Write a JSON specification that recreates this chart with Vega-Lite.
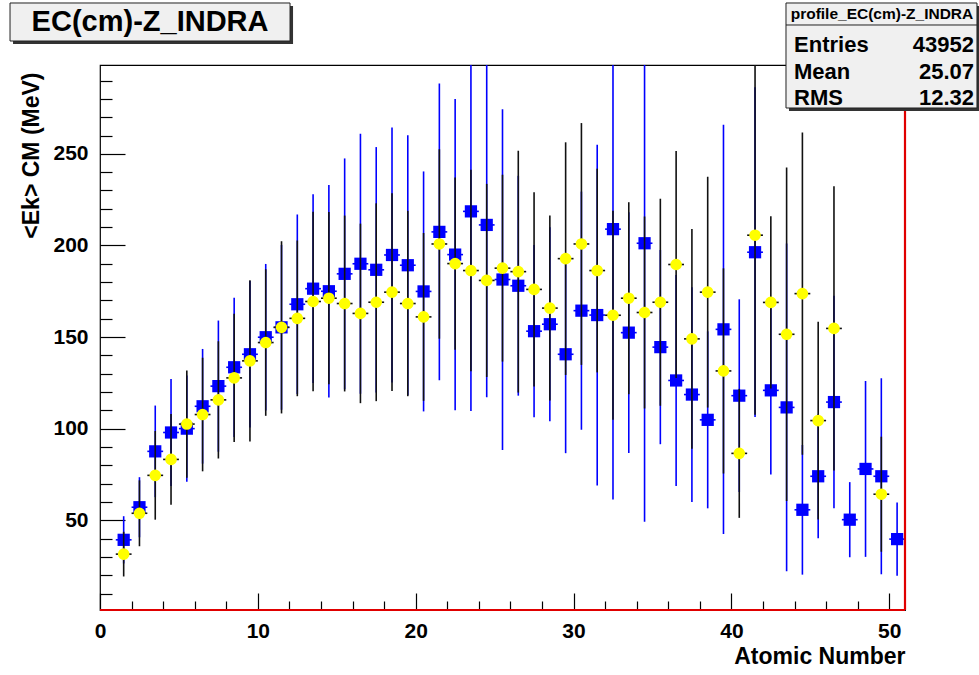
{
  "$schema": "https://vega.github.io/schema/vega-lite/v6.json",
  "width": 805,
  "height": 545,
  "autosize": {"type": "none"},
  "padding": {"left": 100, "top": 65, "right": 74, "bottom": 65},
  "background": "white",
  "config": {"view": {"stroke": "black", "strokeWidth": 1.2}, "font": "Liberation Sans"},
  "datasets": {
    "prof": [
      {"z":1.5,"zlo":1,"zhi":2,"s":"B","v":39.3,"lo":26.4,"hi":52.2},
      {"z":2.5,"zlo":2,"zhi":3,"s":"B","v":57.1,"lo":40.7,"hi":73.5},
      {"z":3.5,"zlo":3,"zhi":4,"s":"B","v":87.6,"lo":62.6,"hi":112.6},
      {"z":4.5,"zlo":4,"zhi":5,"s":"B","v":97.9,"lo":68.7,"hi":127.1},
      {"z":5.5,"zlo":5,"zhi":6,"s":"B","v":100,"lo":71,"hi":129},
      {"z":6.5,"zlo":6,"zhi":7,"s":"B","v":112.2,"lo":80.9,"hi":143.5},
      {"z":7.5,"zlo":7,"zhi":8,"s":"B","v":123.2,"lo":87.4,"hi":159},
      {"z":8.5,"zlo":8,"zhi":9,"s":"B","v":133.5,"lo":95.5,"hi":171.5},
      {"z":9.5,"zlo":9,"zhi":10,"s":"B","v":140.6,"lo":100.6,"hi":180.6},
      {"z":10.5,"zlo":10,"zhi":11,"s":"B","v":149.9,"lo":109.9,"hi":189.9},
      {"z":11.5,"zlo":11,"zhi":12,"s":"B","v":155.3,"lo":110.3,"hi":200.3},
      {"z":12.5,"zlo":12,"zhi":13,"s":"B","v":167.9,"lo":118.9,"hi":216.9},
      {"z":13.5,"zlo":13,"zhi":14,"s":"B","v":176.4,"lo":124.9,"hi":227.9},
      {"z":14.5,"zlo":14,"zhi":15,"s":"B","v":175,"lo":117,"hi":233},
      {"z":15.5,"zlo":15,"zhi":16,"s":"B","v":184.5,"lo":121.5,"hi":247.5},
      {"z":16.5,"zlo":16,"zhi":17,"s":"B","v":190,"lo":119,"hi":261},
      {"z":17.5,"zlo":17,"zhi":18,"s":"B","v":186.7,"lo":119.7,"hi":253.7},
      {"z":18.5,"zlo":18,"zhi":19,"s":"B","v":194.8,"lo":125.2,"hi":264.4},
      {"z":19.5,"zlo":19,"zhi":20,"s":"B","v":189.2,"lo":118.2,"hi":260.2},
      {"z":20.5,"zlo":20,"zhi":21,"s":"B","v":174.9,"lo":109.4,"hi":240.4},
      {"z":21.5,"zlo":21,"zhi":22,"s":"B","v":207.4,"lo":126.4,"hi":288.4},
      {"z":22.5,"zlo":22,"zhi":23,"s":"B","v":195,"lo":110,"hi":280},
      {"z":23.5,"zlo":23,"zhi":24,"s":"B","v":218.6,"lo":109.6,"hi":327.6},
      {"z":24.5,"zlo":24,"zhi":25,"s":"B","v":211.2,"lo":117.2,"hi":305.2},
      {"z":25.5,"zlo":25,"zhi":26,"s":"B","v":181.4,"lo":88.4,"hi":274.4},
      {"z":26.5,"zlo":26,"zhi":27,"s":"B","v":178,"lo":118,"hi":238},
      {"z":27.5,"zlo":27,"zhi":28,"s":"B","v":153.2,"lo":106.2,"hi":200.2},
      {"z":28.5,"zlo":28,"zhi":29,"s":"B","v":157,"lo":104,"hi":210},
      {"z":29.5,"zlo":29,"zhi":30,"s":"B","v":140.6,"lo":86.6,"hi":194.6},
      {"z":30.5,"zlo":30,"zhi":31,"s":"B","v":164.4,"lo":99.4,"hi":229.4},
      {"z":31.5,"zlo":31,"zhi":32,"s":"B","v":162,"lo":69,"hi":255},
      {"z":32.5,"zlo":32,"zhi":33,"s":"B","v":208.9,"lo":61.3,"hi":356.5},
      {"z":33.5,"zlo":33,"zhi":34,"s":"B","v":152.4,"lo":86.7,"hi":218.1},
      {"z":34.5,"zlo":34,"zhi":35,"s":"B","v":201.2,"lo":49.2,"hi":353.2},
      {"z":35.5,"zlo":35,"zhi":36,"s":"B","v":144.5,"lo":91.5,"hi":197.5},
      {"z":36.5,"zlo":36,"zhi":37,"s":"B","v":126.3,"lo":68.7,"hi":183.9},
      {"z":37.5,"zlo":37,"zhi":38,"s":"B","v":118.6,"lo":60,"hi":177.2},
      {"z":38.5,"zlo":38,"zhi":39,"s":"B","v":104.8,"lo":56.5,"hi":153.1},
      {"z":39.5,"zlo":39,"zhi":40,"s":"B","v":154.2,"lo":42.5,"hi":265.9},
      {"z":40.5,"zlo":40,"zhi":41,"s":"B","v":118,"lo":65.4,"hi":170.6},
      {"z":41.5,"zlo":41,"zhi":42,"s":"B","v":196.3,"lo":106.3,"hi":286.3},
      {"z":42.5,"zlo":42,"zhi":43,"s":"B","v":120.9,"lo":74.9,"hi":166.9},
      {"z":43.5,"zlo":43,"zhi":44,"s":"B","v":111.6,"lo":22.2,"hi":201},
      {"z":44.5,"zlo":44,"zhi":45,"s":"B","v":55.7,"lo":20.3,"hi":91.1},
      {"z":45.5,"zlo":45,"zhi":46,"s":"B","v":74,"lo":40.2,"hi":107.8},
      {"z":46.5,"zlo":46,"zhi":47,"s":"B","v":114.5,"lo":56.5,"hi":172.5},
      {"z":47.5,"zlo":47,"zhi":48,"s":"B","v":50.3,"lo":29.8,"hi":70.8},
      {"z":48.5,"zlo":48,"zhi":49,"s":"B","v":78,"lo":30,"hi":126},
      {"z":49.5,"zlo":49,"zhi":50,"s":"B","v":74,"lo":20.5,"hi":127.5},
      {"z":50.5,"zlo":50,"zhi":51,"s":"B","v":39.7,"lo":19.7,"hi":59.7},
      {"z":1.5,"zlo":1,"zhi":2,"s":"Y","v":31.5,"lo":19.3,"hi":43.7},
      {"z":2.5,"zlo":2,"zhi":3,"s":"Y","v":53.8,"lo":35.8,"hi":71.8},
      {"z":3.5,"zlo":3,"zhi":4,"s":"Y","v":74.5,"lo":50.3,"hi":98.7},
      {"z":4.5,"zlo":4,"zhi":5,"s":"Y","v":83.2,"lo":58.4,"hi":108},
      {"z":5.5,"zlo":5,"zhi":6,"s":"Y","v":102.5,"lo":73.2,"hi":131.8},
      {"z":6.5,"zlo":6,"zhi":7,"s":"Y","v":107.7,"lo":76.7,"hi":138.7},
      {"z":7.5,"zlo":7,"zhi":8,"s":"Y","v":115.7,"lo":83.7,"hi":147.7},
      {"z":8.5,"zlo":8,"zhi":9,"s":"Y","v":127.7,"lo":92.7,"hi":162.7},
      {"z":9.5,"zlo":9,"zhi":10,"s":"Y","v":137,"lo":93,"hi":181},
      {"z":10.5,"zlo":10,"zhi":11,"s":"Y","v":147,"lo":107,"hi":187},
      {"z":11.5,"zlo":11,"zhi":12,"s":"Y","v":155.3,"lo":108.3,"hi":202.3},
      {"z":12.5,"zlo":12,"zhi":13,"s":"Y","v":160.2,"lo":117.7,"hi":202.7},
      {"z":13.5,"zlo":13,"zhi":14,"s":"Y","v":169.4,"lo":120.4,"hi":218.4},
      {"z":14.5,"zlo":14,"zhi":15,"s":"Y","v":171.2,"lo":124.2,"hi":218.2},
      {"z":15.5,"zlo":15,"zhi":16,"s":"Y","v":168.3,"lo":120.3,"hi":216.3},
      {"z":16.5,"zlo":16,"zhi":17,"s":"Y","v":162.9,"lo":113.9,"hi":211.9},
      {"z":17.5,"zlo":17,"zhi":18,"s":"Y","v":169,"lo":115,"hi":223},
      {"z":18.5,"zlo":18,"zhi":19,"s":"Y","v":174.5,"lo":120.5,"hi":228.5},
      {"z":19.5,"zlo":19,"zhi":20,"s":"Y","v":168.3,"lo":117.7,"hi":218.9},
      {"z":20.5,"zlo":20,"zhi":21,"s":"Y","v":161,"lo":115.2,"hi":206.8},
      {"z":21.5,"zlo":21,"zhi":22,"s":"Y","v":200.8,"lo":149.1,"hi":252.5},
      {"z":22.5,"zlo":22,"zhi":23,"s":"Y","v":190.1,"lo":143.1,"hi":237.1},
      {"z":23.5,"zlo":23,"zhi":24,"s":"Y","v":186.3,"lo":131.3,"hi":241.3},
      {"z":24.5,"zlo":24,"zhi":25,"s":"Y","v":180.9,"lo":128.2,"hi":233.6},
      {"z":25.5,"zlo":25,"zhi":26,"s":"Y","v":187.6,"lo":136.6,"hi":238.6},
      {"z":26.5,"zlo":26,"zhi":27,"s":"Y","v":185.7,"lo":119.7,"hi":251.7},
      {"z":27.5,"zlo":27,"zhi":28,"s":"Y","v":176,"lo":123,"hi":229},
      {"z":28.5,"zlo":28,"zhi":29,"s":"Y","v":165.8,"lo":115.3,"hi":216.3},
      {"z":29.5,"zlo":29,"zhi":30,"s":"Y","v":192.8,"lo":129.3,"hi":256.3},
      {"z":30.5,"zlo":30,"zhi":31,"s":"Y","v":200.8,"lo":134.8,"hi":266.8},
      {"z":31.5,"zlo":31,"zhi":32,"s":"Y","v":186.3,"lo":130.7,"hi":241.9},
      {"z":32.5,"zlo":32,"zhi":33,"s":"Y","v":161.9,"lo":104.9,"hi":218.9},
      {"z":33.5,"zlo":33,"zhi":34,"s":"Y","v":171.2,"lo":118.8,"hi":223.6},
      {"z":34.5,"zlo":34,"zhi":35,"s":"Y","v":163.4,"lo":111,"hi":215.8},
      {"z":35.5,"zlo":35,"zhi":36,"s":"Y","v":169,"lo":112.5,"hi":225.5},
      {"z":36.5,"zlo":36,"zhi":37,"s":"Y","v":189.6,"lo":127.6,"hi":251.6},
      {"z":37.5,"zlo":37,"zhi":38,"s":"Y","v":149,"lo":89,"hi":209},
      {"z":38.5,"zlo":38,"zhi":39,"s":"Y","v":174.5,"lo":111.5,"hi":237.5},
      {"z":39.5,"zlo":39,"zhi":40,"s":"Y","v":131.5,"lo":75.5,"hi":187.5},
      {"z":40.5,"zlo":40,"zhi":41,"s":"Y","v":86.5,"lo":51.3,"hi":121.7},
      {"z":41.5,"zlo":41,"zhi":42,"s":"Y","v":205.6,"lo":107.6,"hi":303.6},
      {"z":42.5,"zlo":42,"zhi":43,"s":"Y","v":168.9,"lo":121.9,"hi":215.9},
      {"z":43.5,"zlo":43,"zhi":44,"s":"Y","v":151.5,"lo":60.5,"hi":242.5},
      {"z":44.5,"zlo":44,"zhi":45,"s":"Y","v":173.7,"lo":85.7,"hi":261.7},
      {"z":45.5,"zlo":45,"zhi":46,"s":"Y","v":104.4,"lo":50.4,"hi":158.4},
      {"z":46.5,"zlo":46,"zhi":47,"s":"Y","v":154.7,"lo":77.1,"hi":232.3},
      {"z":49.5,"zlo":49,"zhi":50,"s":"Y","v":64.2,"lo":32.8,"hi":95.6}
    ],
    "one": [{}]
  },
  "resolve": {"axis": {"x": "independent", "y": "independent"}},
  "layer": [
    {
      "data": {"name": "prof"},
      "transform": [{"filter": "datum.s === 'B'"}],
      "mark": {"type": "rule", "color": "#0000ff", "strokeWidth": 1.6, "clip": true},
      "encoding": {
        "x": {"field": "z", "type": "quantitative",
              "scale": {"domain": [0, 51], "nice": false, "zero": false},
              "axis": {"orient": "bottom", "values": [0, 10, 20, 30, 40, 50], "tickSize": -17, "tickColor": "black", "tickWidth": 1.2,
                       "domain": false, "grid": false, "labelFlush": false, "labelOverlap": false,
                       "labelFont": "Liberation Sans", "labelFontSize": 21, "labelFontWeight": "bold", "labelColor": "black", "labelPadding": 27,
                       "title": "Atomic Number", "titleAnchor": "end", "titleFont": "Liberation Sans", "titleFontSize": 23, "titleFontWeight": "bold", "titleColor": "black", "titlePadding": 4}},
        "y": {"field": "lo", "type": "quantitative",
              "scale": {"domain": [1, 298.5], "nice": false, "zero": false},
              "axis": {"orient": "left", "values": [50, 100, 150, 200, 250], "tickSize": -25, "tickColor": "black", "tickWidth": 1.2,
                       "domain": false, "grid": false, "labelOverlap": false,
                       "labelFont": "Liberation Sans", "labelFontSize": 21, "labelFontWeight": "bold", "labelColor": "black", "labelPadding": 37,
                       "title": "<Ek> CM (MeV)", "titleFont": "Liberation Sans", "titleFontSize": 23, "titleFontWeight": "bold", "titleColor": "black",
                       "titleAngle": 270, "titleAlign": "right", "titleBaseline": "middle", "titleX": -69, "titleY": 7}},
        "y2": {"field": "hi"}
      }
    },
    {
      "data": {"name": "prof"},
      "transform": [{"filter": "datum.s === 'B'"}],
      "mark": {"type": "rule", "color": "#0000ff", "strokeWidth": 1.6, "clip": true},
      "encoding": {
        "x": {"field": "zlo", "type": "quantitative", "axis": null},
        "x2": {"field": "zhi"},
        "y": {"field": "v", "type": "quantitative", "axis": null}
      }
    },
    {
      "data": {"name": "prof"},
      "transform": [{"filter": "datum.s === 'B'"}],
      "mark": {"type": "point", "shape": "square", "filled": true, "color": "#0000ff", "opacity": 1, "size": 150, "clip": true},
      "encoding": {
        "x": {"field": "z", "type": "quantitative", "axis": null},
        "y": {"field": "v", "type": "quantitative", "axis": null}
      }
    },
    {
      "data": {"name": "prof"},
      "transform": [{"filter": "datum.s === 'Y'"}],
      "mark": {"type": "rule", "color": "#111111", "strokeWidth": 1.6, "clip": true},
      "encoding": {
        "x": {"field": "z", "type": "quantitative",
              "axis": {"orient": "bottom", "values": [2, 4, 6, 8, 12, 14, 16, 18, 22, 24, 26, 28, 32, 34, 36, 38, 42, 44, 46, 48],
                       "tickSize": -9, "tickColor": "black", "tickWidth": 1.2, "labels": false, "domain": false, "grid": false, "title": null}},
        "y": {"field": "lo", "type": "quantitative",
              "axis": {"orient": "left", "values": [10, 20, 30, 40, 60, 70, 80, 90, 110, 120, 130, 140, 160, 170, 180, 190, 210, 220, 230, 240, 260, 270, 280, 290],
                       "tickSize": -12, "tickColor": "black", "tickWidth": 1.2, "labels": false, "domain": false, "grid": false, "title": null}},
        "y2": {"field": "hi"}
      }
    },
    {
      "data": {"name": "prof"},
      "transform": [{"filter": "datum.s === 'Y'"}],
      "mark": {"type": "rule", "color": "#111111", "strokeWidth": 1.6, "clip": true},
      "encoding": {
        "x": {"field": "zlo", "type": "quantitative", "axis": null},
        "x2": {"field": "zhi"},
        "y": {"field": "v", "type": "quantitative", "axis": null}
      }
    },
    {
      "data": {"name": "prof"},
      "transform": [{"filter": "datum.s === 'Y'"}],
      "mark": {"type": "point", "shape": "circle", "filled": true, "color": "#ffff00", "opacity": 1, "size": 135, "clip": true},
      "encoding": {
        "x": {"field": "z", "type": "quantitative", "axis": null},
        "y": {"field": "v", "type": "quantitative", "axis": null}
      }
    },
    {
      "data": {"name": "one"},
      "mark": {"type": "rule", "color": "#e00000", "strokeWidth": 2.2},
      "encoding": {
        "x": {"datum": 0, "type": "quantitative", "axis": null},
        "x2": {"datum": 51},
        "y": {"datum": 1, "type": "quantitative", "axis": null}
      }
    },
    {
      "data": {"name": "one"},
      "mark": {"type": "rule", "color": "#e00000", "strokeWidth": 2.2},
      "encoding": {
        "x": {"datum": 51, "type": "quantitative", "axis": null},
        "y": {"datum": 1, "type": "quantitative", "axis": null},
        "y2": {"datum": 298.5}
      }
    },
    {
      "data": {"name": "one"},
      "mark": {"type": "rect", "color": "#333333"},
      "encoding": {
        "x": {"datum": -5.51, "type": "quantitative", "axis": null},
        "x2": {"datum": 12.23},
        "y": {"datum": 330.7, "type": "quantitative", "axis": null},
        "y2": {"datum": 309.96}
      }
    },
    {
      "data": {"name": "one"},
      "mark": {"type": "rect", "fill": "#f0f0f0", "stroke": "#222222", "strokeWidth": 1},
      "encoding": {
        "x": {"datum": -5.70, "type": "quantitative", "axis": null},
        "x2": {"datum": 12.04},
        "y": {"datum": 332.35, "type": "quantitative", "axis": null},
        "y2": {"datum": 311.6}
      }
    },
    {
      "data": {"name": "one"},
      "mark": {"type": "text", "text": "EC(cm)-Z_INDRA", "font": "Liberation Sans", "fontSize": 29, "fontWeight": "bold", "color": "black", "align": "center", "baseline": "middle"},
      "encoding": {
        "x": {"datum": 3.17, "type": "quantitative", "axis": null},
        "y": {"datum": 321.9, "type": "quantitative", "axis": null}
      }
    },
    {
      "data": {"name": "one"},
      "mark": {"type": "rect", "color": "#333333"},
      "encoding": {
        "x": {"datum": 43.65, "type": "quantitative", "axis": null},
        "x2": {"datum": 55.75},
        "y": {"datum": 330.7, "type": "quantitative", "axis": null},
        "y2": {"datum": 273.4}
      }
    },
    {
      "data": {"name": "one"},
      "mark": {"type": "rect", "fill": "#f0f0f0", "stroke": "#222222", "strokeWidth": 1},
      "encoding": {
        "x": {"datum": 43.46, "type": "quantitative", "axis": null},
        "x2": {"datum": 55.56},
        "y": {"datum": 332.35, "type": "quantitative", "axis": null},
        "y2": {"datum": 275.03}
      }
    },
    {
      "data": {"name": "one"},
      "mark": {"type": "rule", "color": "#222222", "strokeWidth": 1},
      "encoding": {
        "x": {"datum": 43.46, "type": "quantitative", "axis": null},
        "x2": {"datum": 55.56},
        "y": {"datum": 320.34, "type": "quantitative", "axis": null}
      }
    },
    {
      "data": {"name": "one"},
      "mark": {"type": "text", "text": "profile_EC(cm)-Z_INDRA", "font": "Liberation Sans", "fontSize": 15.5, "fontWeight": "bold", "color": "black", "align": "center", "baseline": "middle"},
      "encoding": {
        "x": {"datum": 49.54, "type": "quantitative", "axis": null},
        "y": {"datum": 326.34, "type": "quantitative", "axis": null}
      }
    },
    {
      "data": {"values": [{"k": "Entries", "val": "43952", "yy": 309.42}, {"k": "Mean", "val": "25.07", "yy": 294.68}, {"k": "RMS", "val": "12.32", "yy": 280.49}]},
      "mark": {"type": "text", "font": "Liberation Sans", "fontSize": 22, "fontWeight": "bold", "color": "black", "align": "left", "baseline": "middle"},
      "encoding": {
        "x": {"datum": 43.97, "type": "quantitative", "axis": null},
        "y": {"field": "yy", "type": "quantitative", "axis": null},
        "text": {"field": "k"}
      }
    },
    {
      "data": {"values": [{"k": "Entries", "val": "43952", "yy": 309.42}, {"k": "Mean", "val": "25.07", "yy": 294.68}, {"k": "RMS", "val": "12.32", "yy": 280.49}]},
      "mark": {"type": "text", "font": "Liberation Sans", "fontSize": 22, "fontWeight": "bold", "color": "black", "align": "right", "baseline": "middle"},
      "encoding": {
        "x": {"datum": 55.37, "type": "quantitative", "axis": null},
        "y": {"field": "yy", "type": "quantitative", "axis": null},
        "text": {"field": "val"}
      }
    }
  ]
}
